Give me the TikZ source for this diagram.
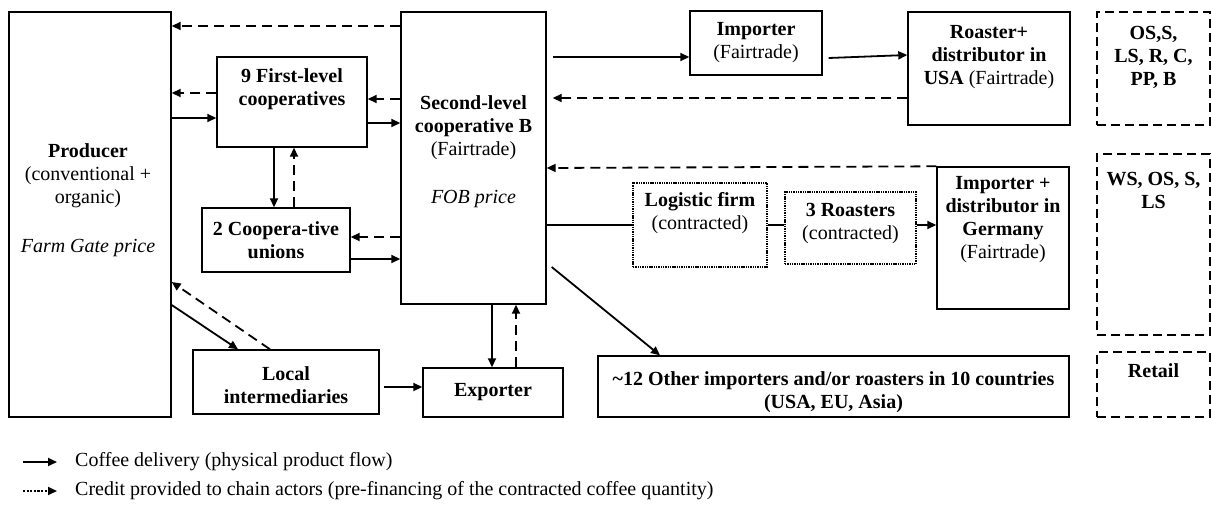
\documentclass[tikz,border=0pt]{standalone}
\usepackage{fontspec}
\setmainfont{Liberation Serif}
\usetikzlibrary{arrows.meta}
\begin{document}
\begin{tikzpicture}[x=1pt,y=-1pt,
  font=\fontsize{20}{23}\selectfont,
  box/.style={draw, line width=1.4pt, inner sep=0pt},
  dbox/.style={box, line width=1.6pt, dash pattern=on 9pt off 5pt},
  obox/.style={box, line width=2.2pt, dash pattern=on 1.4pt off 0.9pt},
  lbl/.style={inner sep=0pt, align=center},
  flow/.style={line width=1.8pt, -{Triangle[length=9pt,width=8pt]}},
  credit/.style={flow, dash pattern=on 10pt off 6pt},
  link/.style={line width=1.8pt}]
\useasboundingbox (0,0) rectangle (1212,506);

% ---- boxes
\node[box, minimum width=162, minimum height=405] (prod) at (90,214.5) {};
\node[box, minimum width=150, minimum height=90]  (fl9)  at (292,102) {};
\node[box, minimum width=148, minimum height=64]  (cu2)  at (276,240) {};
\node[box, minimum width=145, minimum height=292] (sl)   at (473.5,158) {};
\node[box, minimum width=132, minimum height=64]  (imp)  at (756,43) {};
\node[box, minimum width=162, minimum height=113] (rst)  at (989,68.5) {};
\node[dbox, minimum width=113, minimum height=113] (osb) at (1153.5,68.5) {};
\node[dbox, minimum width=113, minimum height=181] (wsb) at (1153.5,244.5) {};
\node[dbox, minimum width=113, minimum height=65]  (rtl) at (1153.5,384.5) {};
\node[obox, minimum width=134, minimum height=84] (log)  at (700,225) {};
\node[obox, minimum width=131, minimum height=72] (rs3)  at (850.5,228) {};
\node[box, minimum width=132, minimum height=142] (ger)  at (1003,238) {};
\node[box, minimum width=471, minimum height=61]  (oth)  at (833.5,386.5) {};
\node[box, minimum width=186, minimum height=64]  (loc)  at (286,382) {};
\node[box, minimum width=140, minimum height=49]  (exp)  at (493,392.5) {};

% ---- box texts
\node[lbl] (prodT) at (88,176) {\textbf{Producer}\\(conventional +\\organic)};
\node[lbl] (prodP) at (88,248) {\textit{Farm Gate price}};
\node[lbl] (fl9T)  at (292,89.5) {\textbf{9 First-level}\\\textbf{cooperatives}};
\node[lbl] (cu2T)  at (276,240) {\textbf{2 Coopera-tive}\\\textbf{unions}};
\node[lbl] (slT)   at (473.5,128) {\textbf{Second-level}\\\textbf{cooperative B}\\(Fairtrade)};
\node[lbl] (slP)   at (473.5,199) {\textit{FOB price}};
\node[lbl] (impT)  at (756,42.5) {\textbf{Importer}\\(Fairtrade)};
\node[lbl] (rstT)  at (989,57) {\textbf{Roaster+}\\\textbf{distributor in}\\\textbf{USA} (Fairtrade)};
\node[lbl] (osbT)  at (1153.5,57) {\textbf{OS,S,}\\\textbf{LS, R, C,}\\\textbf{PP, B}};
\node[lbl] (wsbT)  at (1153.5,190) {\textbf{WS, OS, S,}\\\textbf{LS}};
\node[lbl] (rtlT)  at (1153.5,371) {\textbf{Retail}};
\node[lbl] (logT)  at (700,213.5) {\textbf{Logistic firm}\\(contracted)};
\node[lbl] (rs3T)  at (850.5,223.5) {\textbf{3 Roasters}\\(contracted)};
\node[lbl] (gerT)  at (1003,220) {\textbf{Importer +}\\\textbf{distributor in}\\\textbf{Germany}\\(Fairtrade)};
\node[lbl] (othT)  at (833.5,392) {\textbf{\char`~12 Other importers and/or roasters in 10 countries}\\\textbf{(USA, EU, Asia)}};
\node[lbl] (locT)  at (286,385) {\textbf{Local}\\\textbf{intermediaries}};
\node[lbl] (expT)  at (493,392) {\textbf{Exporter}};

% ---- producer side
\draw[credit] (sl.west |- 0,26) -- (prod.east |- 0,26);
\draw[credit] (fl9.west |- 0,93) -- (prod.east |- 0,93);
\draw[flow]   (prod.east |- 0,118) -- (fl9.west |- 0,118);
\draw[credit] (sl.west |- 0,99) -- (fl9.east |- 0,99);
\draw[flow]   (fl9.east |- 0,123) -- (sl.west |- 0,123);
\draw[flow]   (fl9.south -| 274,0) -- (cu2.north -| 274,0);
\draw[credit] (cu2.north -| 294,0) -- (fl9.south -| 294,0);
\draw[credit] (sl.west |- 0,237) -- (cu2.east |- 0,237);
\draw[flow]   (cu2.east |- 0,259) -- (sl.west |- 0,259);
\draw[flow]   (prod.east |- 0,305) -- (loc.north -| 238,0);
\draw[credit] (loc.north -| 270,0) -- (prod.east |- 0,282);
\draw[flow]   ([xshift=4pt]loc.east |- 0,387) -- (exp.west |- 0,387);
\draw[flow]   (sl.south -| 492,0) -- (exp.north -| 492,0);
\draw[credit] (exp.north -| 516,0) -- (sl.south -| 516,0);

% ---- export side
\draw[flow]   ([xshift=5pt]sl.east |- 0,267) -- (oth.north -| 660,0);
\draw[flow]   ([xshift=6pt]sl.east |- 0,57) -- (imp.west |- 0,57);
\draw[flow]   ([xshift=6pt]imp.east |- 0,58) -- (rst.west |- 0,55);
\draw[credit] (rst.west |- 0,98) -- ([xshift=6pt]sl.east |- 0,98);
\draw[credit] (ger.north west) -- (sl.east |- 0,168);
\draw[link]   (sl.east |- 0,225) -- (log.west |- 0,225);
\draw[link]   (log.east |- 0,225) -- (rs3.west |- 0,225);
\draw[flow]   (rs3.east |- 0,225) -- (ger.west |- 0,225);

% ---- legend
\coordinate (k1a) at (23,462);
\coordinate (k1b) at (57,462);
\coordinate (k2a) at (23,491);
\coordinate (k2b) at (57,491);
\draw[flow] (k1a) -- (k1b);
\draw[flow, dash pattern=on 2.2pt off 1.4pt] (k2a) -- (k2b);
\node[lbl, anchor=west] (k1T) at (75,462) {Coffee delivery (physical product flow)};
\node[lbl, anchor=west] (k2T) at (75,491) {Credit provided to chain actors (pre-financing of the contracted coffee quantity)};
\end{tikzpicture}
\end{document}
